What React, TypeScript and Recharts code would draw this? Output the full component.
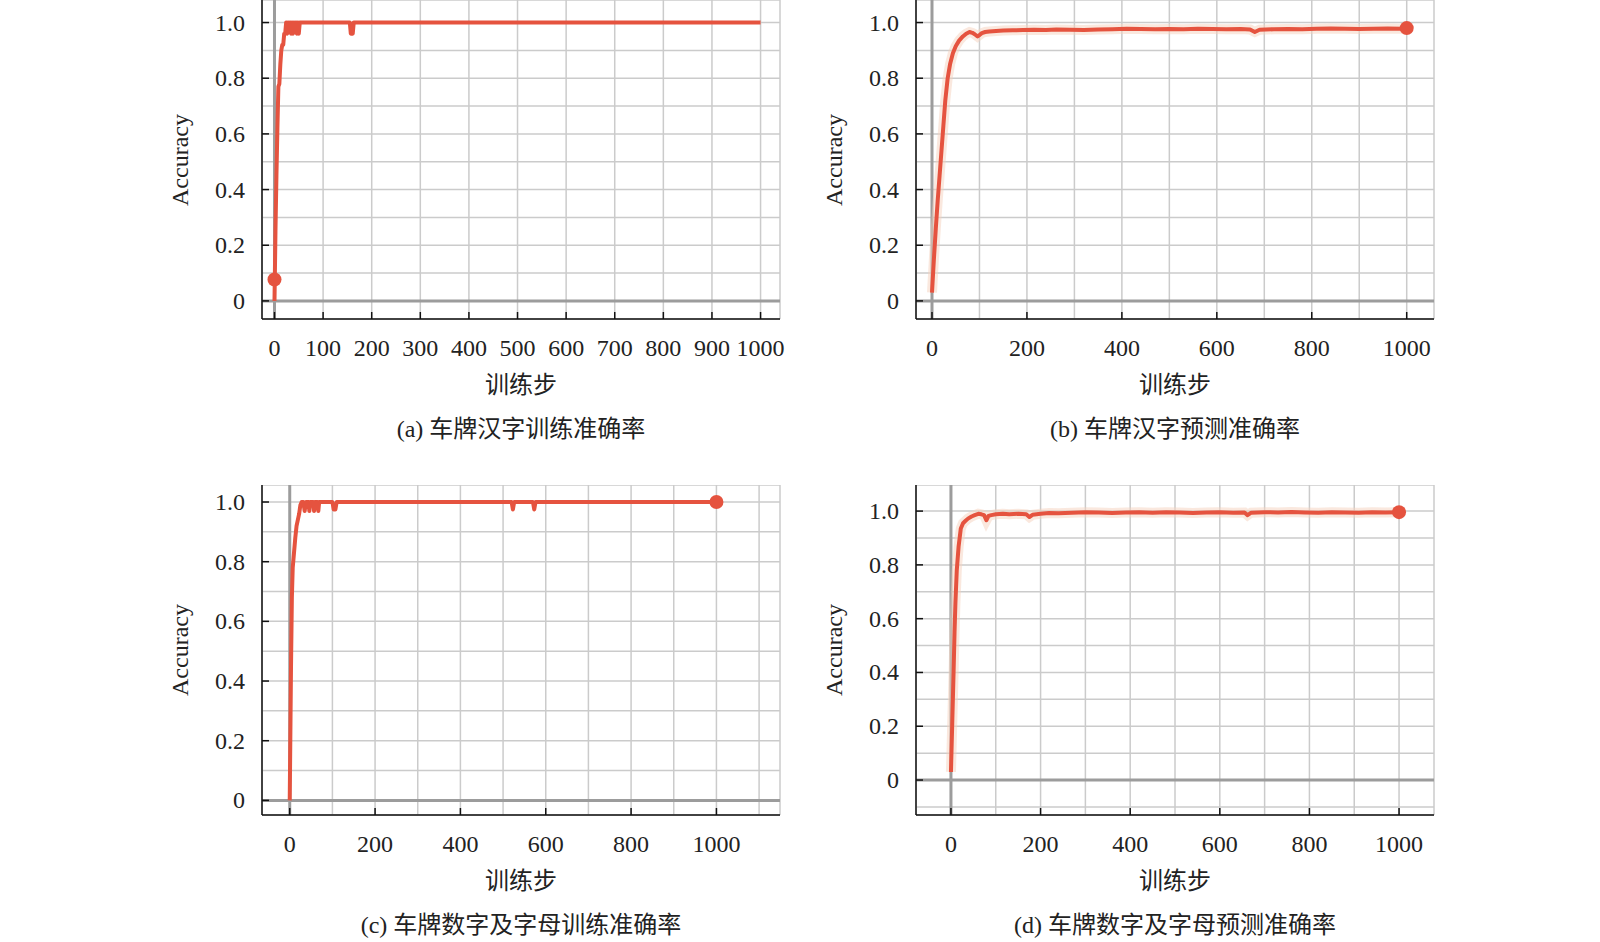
import React from "react"
import { LineChart, Line, XAxis, YAxis, CartesianGrid, ReferenceLine, ReferenceDot } from "recharts"

const LINE_COLOR = "#e5533f"
const HALO_COLOR = "#f6d2bd"
const SERIF = '"Liberation Serif", "Times New Roman", serif'
const CJK = '"Liberation Serif", "Noto Sans CJK SC", serif'

// (a) 车牌汉字训练准确率
const stepsA = [
  0, 2, 4, 6, 8, 10, 12, 14, 16, 18,
  20, 22, 24, 26, 28, 30, 32, 34, 36, 38,
  40, 42, 44, 46, 48, 50, 52, 55, 155, 157,
  161, 163, 1000,
]
const accA = [
  0, 0.25, 0.45, 0.62, 0.77, 0.78, 0.85, 0.9, 0.92, 0.92,
  0.96, 0.96, 1.0, 0.96, 1.0, 0.97, 1.0, 0.96, 1.0, 0.96,
  1.0, 0.97, 1.0, 0.96, 1.0, 0.96, 1.0, 1.0, 1.0, 0.96,
  0.96, 1.0, 1.0,
]

// (b) 车牌汉字预测准确率
const stepsB = [
  0, 4, 8, 12, 16, 20, 24, 28, 33, 38,
  44, 50, 57, 65, 72, 79, 85, 90, 96, 100,
  105, 112, 121, 135, 150, 170, 192, 215, 240, 262,
  290, 320, 350, 380, 410, 440, 470, 500, 530, 560,
  590, 620, 650, 670, 680, 690, 720, 750, 780, 810,
  840, 870, 900, 930, 960, 990, 1000,
]
const accB = [
  0.03, 0.15, 0.26, 0.36, 0.45, 0.54, 0.63, 0.72, 0.8, 0.85,
  0.89, 0.915, 0.935, 0.95, 0.96, 0.966, 0.963, 0.958, 0.95, 0.955,
  0.962, 0.966, 0.968, 0.97, 0.971, 0.972, 0.973, 0.974, 0.973, 0.975,
  0.974, 0.973, 0.975, 0.976, 0.978, 0.977, 0.976, 0.977, 0.976, 0.978,
  0.977, 0.976, 0.977, 0.975, 0.966, 0.974, 0.976, 0.977, 0.976, 0.978,
  0.979, 0.978, 0.977, 0.978, 0.979, 0.978, 0.98,
]

// (c) 车牌数字及字母训练准确率
const stepsC = [
  0, 3, 5, 7, 10, 13, 16, 19, 22, 25,
  28, 32, 35, 38, 44, 46, 48, 55, 57, 59,
  65, 67, 69, 100, 103, 107, 110, 520, 523, 526,
  570, 573, 576, 1000,
]
const accC = [
  0, 0.45, 0.68, 0.78, 0.83, 0.88, 0.92, 0.94, 0.96, 0.99,
  1.0, 1.0, 0.97, 1.0, 1.0, 0.97, 1.0, 1.0, 0.97, 1.0,
  1.0, 0.97, 1.0, 1.0, 0.975, 0.975, 1.0, 1.0, 0.975, 1.0,
  1.0, 0.975, 1.0, 1.0,
]

// (d) 车牌数字及字母预测准确率
const stepsD = [
  0, 3, 6, 8, 10, 13, 17, 22, 27, 32,
  38, 46, 53, 61, 68, 74, 79, 84, 90, 100,
  116, 130, 150, 168, 175, 182, 200, 219, 240, 270,
  300, 330, 360, 390, 420, 450, 480, 510, 540, 570,
  600, 630, 655, 662, 670, 700, 730, 760, 790, 820,
  850, 880, 910, 940, 970, 1000,
]
const accD = [
  0.03, 0.22, 0.41, 0.55, 0.66, 0.78, 0.867, 0.935, 0.955, 0.963,
  0.972, 0.98, 0.985, 0.99, 0.988, 0.985, 0.966, 0.982, 0.985, 0.988,
  0.99, 0.988, 0.99, 0.988, 0.978, 0.986, 0.99, 0.993, 0.992, 0.994,
  0.996, 0.995, 0.993, 0.995, 0.996, 0.994, 0.996, 0.995, 0.993, 0.995,
  0.996, 0.994, 0.995, 0.985, 0.994, 0.996, 0.995, 0.997, 0.995, 0.994,
  0.996, 0.995, 0.994, 0.996, 0.995, 0.996,
]

// axis ticks (grid every 100 steps / every 0.1)
const xTicks1000 = [0, 100, 200, 300, 400, 500, 600, 700, 800, 900, 1000]
const xTicks1100 = [0, 100, 200, 300, 400, 500, 600, 700, 800, 900, 1000, 1100]
const xLabelsAll = [0, 100, 200, 300, 400, 500, 600, 700, 800, 900, 1000]
const xLabels200 = [0, 200, 400, 600, 800, 1000]
const yTicks = [0, 0.1, 0.2, 0.3, 0.4, 0.5, 0.6, 0.7, 0.8, 0.9, 1.0]
const yTicksD = [-0.1, 0, 0.1, 0.2, 0.3, 0.4, 0.5, 0.6, 0.7, 0.8, 0.9, 1.0]

const captions = ["(a) 车牌汉字训练准确率", "(b) 车牌汉字预测准确率", "(c) 车牌数字及字母训练准确率", "(d) 车牌数字及字母预测准确率"]

const toRows = (steps: number[], acc: number[]) => steps.map((step, i) => ({ step, acc: acc[i] }))

const panels = [
  {
    left: 262, top: 0, w: 518, h: 319,
    xDomain: [-25.7, 1040], yDomain: [-0.065, 1.081],
    xTicks: xTicks1000, xLabels: xLabelsAll, yTicks,
    data: toRows(stepsA, accA), marker: { step: 0, acc: 0.077 }, halo: false,
    caption: captions[0],
  },
  {
    left: 916, top: 0, w: 518, h: 319,
    xDomain: [-33.7, 1057.5], yDomain: [-0.065, 1.081],
    xTicks: xTicks1000, xLabels: xLabels200, yTicks,
    data: toRows(stepsB, accB), marker: { step: 1000, acc: 0.98 }, halo: true,
    caption: captions[1],
  },
  {
    left: 262, top: 485, w: 518, h: 330,
    xDomain: [-65, 1149], yDomain: [-0.049, 1.057],
    xTicks: xTicks1100, xLabels: xLabels200, yTicks,
    data: toRows(stepsC, accC), marker: { step: 1000, acc: 1.0 }, halo: false,
    caption: captions[2],
  },
  {
    left: 916, top: 485, w: 518, h: 330,
    xDomain: [-78, 1078], yDomain: [-0.13, 1.097],
    xTicks: xTicks1000, xLabels: xLabels200, yTicks: yTicksD,
    data: toRows(stepsD, accD), marker: { step: 1000, acc: 0.996 }, halo: true,
    caption: captions[3],
  },
]

const Y_W = 60
const X_H = 50
const RIGHT_PAD = 30

function renderYTick(props: any) {
  const { x, y, payload } = props
  const v = payload.value
  if (v < 0 || Math.round(v * 10) % 2 !== 0) return <g />
  return (
    <g>
      <line x1={x} y1={y} x2={x + 7} y2={y} stroke="#111" strokeWidth={1.5} />
      <text x={x - 17} y={y} textAnchor="end" dominantBaseline="central" fontSize={24} fontFamily={SERIF} fill="#222">
        {v === 0 ? "0" : v.toFixed(1)}
      </text>
    </g>
  )
}

const makeXTick = (labels: number[]) => (props: any) => {
  const { x, y, payload } = props
  if (!labels.includes(payload.value)) return <g />
  return (
    <g>
      <line x1={x} y1={y} x2={x} y2={y - 7} stroke="#111" strokeWidth={1.5} />
      <text x={x} y={y + 29} textAnchor="middle" dominantBaseline="central" fontSize={24} fontFamily={SERIF} fill="#222">
        {payload.value}
      </text>
    </g>
  )
}

function Panel({ p }: { p: (typeof panels)[number] }) {
  const textStyle: React.CSSProperties = {
    position: "absolute",
    transform: "translate(-50%, -50%)",
    whiteSpace: "nowrap",
    fontFamily: CJK,
    fontSize: 24,
    color: "#222",
    lineHeight: 1,
  }
  return (
    <>
      <div style={{ position: "absolute", left: p.left - Y_W, top: p.top }}>
        <LineChart
          width={Y_W + p.w + RIGHT_PAD}
          height={p.h + X_H}
          data={p.data}
          margin={{ top: 0, right: RIGHT_PAD, bottom: 0, left: 0 }}
        >
          <CartesianGrid stroke="#cbcbcb" strokeWidth={1.5} />
          <ReferenceLine y={0} stroke="#9c9c9c" strokeWidth={3} />
          <ReferenceLine x={0} stroke="#9c9c9c" strokeWidth={3} />
          {p.halo && (
            <Line
              type="linear"
              dataKey="acc"
              stroke={HALO_COLOR}
              strokeWidth={10}
              strokeOpacity={0.5}
              dot={false}
              activeDot={false}
              isAnimationActive={false}
            />
          )}
          <Line
            type="linear"
            dataKey="acc"
            stroke={LINE_COLOR}
            strokeWidth={4}
            strokeLinejoin="round"
            dot={false}
            activeDot={false}
            isAnimationActive={false}
          />
          <ReferenceDot x={p.marker.step} y={p.marker.acc} r={7} fill={LINE_COLOR} stroke="none" />
          <XAxis
            dataKey="step"
            type="number"
            domain={p.xDomain}
            allowDataOverflow
            ticks={p.xTicks}
            interval={0}
            height={X_H}
            tickSize={0}
            tickMargin={0}
            tickLine={false}
            axisLine={{ stroke: "#111", strokeWidth: 1.5 }}
            tick={makeXTick(p.xLabels)}
          />
          <YAxis
            type="number"
            domain={p.yDomain}
            allowDataOverflow
            ticks={p.yTicks}
            interval={0}
            width={Y_W}
            tickSize={0}
            tickMargin={0}
            tickLine={false}
            axisLine={{ stroke: "#111", strokeWidth: 1.5 }}
            tick={renderYTick}
          />
        </LineChart>
      </div>
      <div style={{ ...textStyle, fontFamily: SERIF, left: p.left - 82.5, top: p.top + p.h / 2, transform: "translate(-50%, -50%) rotate(-90deg)" }}>
        Accuracy
      </div>
      <div style={{ ...textStyle, left: p.left + p.w / 2, top: p.top + p.h + 66 }}>训练步</div>
      <div style={{ ...textStyle, left: p.left + p.w / 2, top: p.top + p.h + 110 }}>{p.caption}</div>
    </>
  )
}

export default function App() {
  return (
    <div style={{ position: "absolute", left: 0, top: 0, width: 1600, height: 942, background: "#fff", overflow: "hidden" }}>
      {panels.map((p, i) => (
        <Panel key={i} p={p} />
      ))}
    </div>
  )
}
